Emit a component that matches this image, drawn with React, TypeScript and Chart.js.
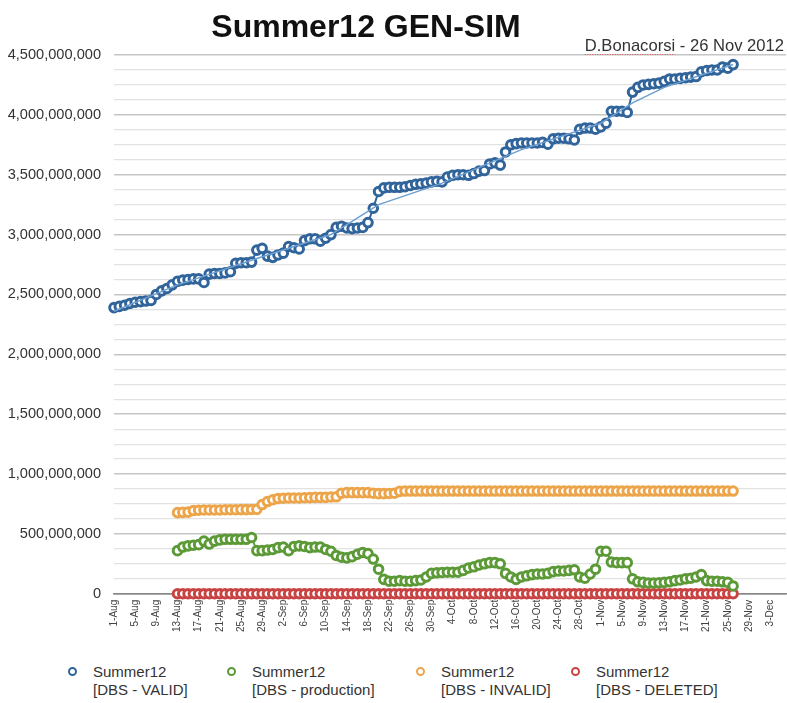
import React, { useEffect, useRef } from 'react';
import { Chart, registerables } from 'chart.js';

Chart.register(...registerables);

// ---------- text ----------
const TITLE = 'Summer12 GEN-SIM';
const AUTHOR = 'D.Bonacorsi - 26 Nov 2012';
const AUTHOR_NAME = 'D.Bonacorsi';
const SERIES_NAME = 'Summer12';
const SERIES_TAGS = ['[DBS - VALID]', '[DBS - production]', '[DBS - INVALID]', '[DBS - DELETED]'];

// ---------- categories (daily, 1-Aug-2012 .. 6-Dec-2012) ----------
const MONTHS = ['Jan', 'Feb', 'Mar', 'Apr', 'May', 'Jun', 'Jul', 'Aug', 'Sep', 'Oct', 'Nov', 'Dec'];
const START_YEAR = 2012;
const START_MONTH = 7; // August
const DAY_COUNT = 128;
const LABEL_EVERY = 4;
const categories: string[] = Array.from({ length: DAY_COUNT }, (_, i) => {
  const d = new Date(START_YEAR, START_MONTH, 1 + i);
  return `${d.getDate()}-${MONTHS[d.getMonth()]}`;
});

// ---------- values (millions of events) ----------
// VALID: 1-Aug .. 26-Nov
const validValues = [
  2390, 2400, 2410, 2425, 2435, 2440, 2445, 2450, 2500, 2530,
  2550, 2580, 2610, 2620, 2625, 2630, 2630, 2600, 2670, 2675,
  2675, 2680, 2690, 2760, 2765, 2765, 2770, 2870, 2885, 2820,
  2810, 2830, 2845, 2900, 2890, 2880, 2950, 2965, 2965, 2945,
  2970, 3000, 3060, 3070, 3055, 3050, 3055, 3060, 3100, 3220,
  3360, 3390, 3395, 3395, 3395, 3400, 3410, 3420, 3425, 3430,
  3440, 3445, 3440, 3480, 3495, 3500, 3500, 3495, 3510, 3530,
  3535, 3590, 3600, 3580, 3690, 3750, 3760, 3765, 3765, 3765,
  3765, 3770, 3755, 3800, 3805, 3805, 3800, 3790, 3880, 3890,
  3890, 3880, 3900, 3930, 4030, 4030, 4030, 4020, 4190, 4230,
  4250, 4255, 4260, 4265, 4280, 4300, 4300, 4305, 4310, 4315,
  4320, 4360, 4370, 4375, 4375, 4400, 4390, 4420,
];

// the other three series start on 13-Aug
const LATE_START = 12;

const productionValues = [
  360, 390, 400, 405, 410, 440, 415, 440, 450, 455,
  455, 455, 455, 455, 470, 360, 360, 365, 370, 385,
  390, 360, 395, 400, 395, 385, 390, 390, 370, 355,
  320, 305, 300, 310, 330, 345, 335, 290, 205, 120,
  105, 105, 110, 105, 105, 110, 115, 140, 170, 175,
  178, 180, 180, 180, 195, 215, 225, 240, 250, 260,
  260, 250, 170, 140, 120, 140, 150, 160, 165, 165,
  170, 185, 190, 190, 195, 200, 140, 130, 165, 205,
  355, 355, 265, 260, 260, 260, 125, 100, 95, 90,
  90, 92, 95, 100, 110, 115, 125, 130, 140, 160,
  110, 105, 105, 100, 95, 65,
];

const invalidValues = [
  678, 680, 682, 695, 698, 700, 700, 700, 700, 702,
  702, 702, 703, 703, 704, 705, 745, 770, 785, 795,
  798, 800, 800, 800, 802, 803, 805, 805, 805, 808,
  810, 840, 845, 845, 845, 845, 845, 840, 836, 836,
  838, 840, 855, 858, 858, 858, 858, 858, 858, 858,
  858, 858, 858, 858, 858, 858, 858, 858, 858, 858,
  858, 858, 858, 858, 858, 858, 858, 858, 858, 858,
  858, 858, 858, 858, 858, 858, 858, 858, 858, 858,
  858, 858, 858, 858, 858, 858, 858, 858, 858, 858,
  858, 858, 858, 858, 858, 858, 858, 858, 858, 858,
  858, 858, 858, 858, 858, 858,
];

const deletedValues = [
  0, 0, 0, 0, 0, 0, 0, 0, 0, 0,
  0, 0, 0, 0, 0, 0, 0, 0, 0, 0,
  0, 0, 0, 0, 0, 0, 0, 0, 0, 0,
  0, 0, 0, 0, 0, 0, 0, 0, 0, 0,
  0, 0, 0, 0, 0, 0, 0, 0, 0, 0,
  0, 0, 0, 0, 0, 0, 0, 0, 0, 0,
  0, 0, 0, 0, 0, 0, 0, 0, 0, 0,
  0, 0, 0, 0, 0, 0, 0, 0, 0, 0,
  0, 0, 0, 0, 0, 0, 0, 0, 0, 0,
  0, 0, 0, 0, 0, 0, 0, 0, 0, 0,
  0, 0, 0, 0, 0, 0,
];

// trend line through the VALID series (read at a few days)
const trendDays = [0, 12, 27, 41, 50, 62, 77, 92, 98, 104, 117];
const trendValues = [2360, 2580, 2800, 3000, 3250, 3430, 3710, 3930, 4100, 4230, 4420];

// y axis (millions)
const Y_MAX = 4500;
const Y_STEP = 125;
const Y_LABEL_STEP = 500;

// ---------- styles ----------
const FONT = '"Liberation Sans", Arial, Helvetica, sans-serif';
const COLORS = ['#30649a', '#5c9a38', '#eca54a', '#c94343'];
const TREND_COLOR = '#6d9fd2';
const LEGEND_TEXT_X = [93, 252, 441, 596];
const Y_AXIS_WIDTH = 106;

const padFront = (n: number, values: number[]) => [
  ...Array.from({ length: n }, () => null),
  ...values,
];

const withCommas = (n: number) => String(Math.round(n)).replace(/\B(?=(\d{3})+(?!\d))/g, ',');

const headerPlugin = {
  id: 'headerText',
  afterDraw(chart: any) {
    const { ctx } = chart;
    ctx.save();
    ctx.fillStyle = '#111';
    ctx.font = `bold 32px ${FONT}`;
    ctx.textAlign = 'center';
    ctx.textBaseline = 'alphabetic';
    ctx.fillText(TITLE, 366, 37);

    ctx.font = `16.6px ${FONT}`;
    ctx.textAlign = 'right';
    ctx.fillStyle = '#333';
    const right = 784;
    ctx.fillText(AUTHOR, right, 51);
    const full = ctx.measureText(AUTHOR).width;
    const nameW = ctx.measureText(AUTHOR_NAME).width;
    const x0 = right - full;
    ctx.strokeStyle = '#e05050';
    ctx.lineWidth = 1;
    ctx.setLineDash([1, 1.5]);
    ctx.beginPath();
    ctx.moveTo(x0, 54.5);
    ctx.lineTo(x0 + nameW, 54.5);
    ctx.stroke();
    ctx.restore();
  },
};

function lineSeries(label: string, data: (number | null)[], color: string) {
  return {
    label,
    data,
    borderColor: color,
    backgroundColor: color,
    borderWidth: 2,
    pointRadius: 4.3,
    pointBorderWidth: 3,
    pointBackgroundColor: '#ffffff',
    pointBorderColor: color,
    pointHoverRadius: 4.3,
    fill: false,
    tension: 0,
    clip: false,
  };
}

export default function App() {
  const canvasRef = useRef<HTMLCanvasElement | null>(null);

  useEffect(() => {
    if (!canvasRef.current) return;
    const trendData: (number | null)[] = categories.map(() => null);
    trendDays.forEach((d, k) => {
      trendData[d] = trendValues[k];
    });

    const chart = new Chart(canvasRef.current, {
      type: 'line',
      data: {
        labels: categories,
        datasets: [
          {
            label: 'trend',
            data: trendData,
            borderColor: TREND_COLOR,
            borderWidth: 1.5,
            pointRadius: 0,
            spanGaps: true,
            fill: false,
            tension: 0,
          },
          lineSeries(`${SERIES_NAME} ${SERIES_TAGS[0]}`, validValues, COLORS[0]),
          lineSeries(`${SERIES_NAME} ${SERIES_TAGS[1]}`, padFront(LATE_START, productionValues), COLORS[1]),
          lineSeries(`${SERIES_NAME} ${SERIES_TAGS[2]}`, padFront(LATE_START, invalidValues), COLORS[2]),
          lineSeries(`${SERIES_NAME} ${SERIES_TAGS[3]}`, padFront(LATE_START, deletedValues), COLORS[3]),
        ] as any,
      },
      options: {
        animation: false,
        responsive: true,
        maintainAspectRatio: false,
        layout: { autoPadding: false, padding: { top: 55, left: 8, right: 1, bottom: 14 } },
        plugins: {
          legend: { display: false },
          tooltip: { enabled: false },
          title: { display: false },
        },
        scales: {
          x: {
            type: 'category',
            offset: false,
            afterFit: (scale: any) => {
              scale.paddingLeft = 0;
              scale.paddingRight = 0;
            },
            grid: { display: false, drawTicks: false },
            border: { display: true, color: '#8a8a8a', width: 1.5 },
            ticks: {
              autoSkip: false,
              maxRotation: 90,
              minRotation: 90,
              padding: 6,
              color: '#444',
              font: { size: 10, family: FONT },
              callback: function (this: any, val: any, idx: number) {
                return idx % LABEL_EVERY === 0 ? categories[idx] : '';
              },
            },
          },
          y: {
            min: 0,
            max: Y_MAX,
            afterFit: (scale: any) => {
              scale.width = Y_AXIS_WIDTH;
            },
            border: { display: false },
            grid: {
              drawTicks: false,
              color: (ctx: any) => {
                const v = ctx.tick?.value ?? 0;
                if (v === 0) return '#8a8a8a';
                return v % Y_LABEL_STEP === 0 ? '#c6c6c6' : '#e2e2e2';
              },
              lineWidth: (ctx: any) => {
                const v = ctx.tick?.value ?? 0;
                return v % Y_LABEL_STEP === 0 ? 1.5 : 1.2;
              },
            },
            ticks: {
              stepSize: Y_STEP,
              autoSkip: false,
              padding: 13,
              color: '#333',
              font: { size: 14.6, family: FONT },
              callback: (v: any) => (Number(v) % Y_LABEL_STEP === 0 ? withCommas(Number(v) * 1e6) : ''),
            },
          },
        },
      } as any,
      plugins: [headerPlugin],
    });
    return () => chart.destroy();
  }, []);

  return (
    <div style={{ position: 'absolute', left: 0, top: 0, width: 787, height: 703, background: '#fff', fontFamily: FONT, overflow: 'hidden' }}>
      <div style={{ position: 'absolute', left: 0, top: 0, width: 787, height: 652 }}>
        <canvas ref={canvasRef} />
      </div>
      {SERIES_TAGS.map((tag, i) => (
        <div key={tag} style={{ position: 'absolute', left: LEGEND_TEXT_X[i] - 25, top: 663 }}>
          <span
            style={{
              position: 'absolute',
              left: 0,
              top: 4,
              width: 5,
              height: 5,
              border: `2.5px solid ${COLORS[i]}`,
              borderRadius: '50%',
              background: '#fff',
            }}
          />
          <div style={{ position: 'absolute', left: 25, top: 0, whiteSpace: 'nowrap', fontSize: 15, lineHeight: '18px', color: '#333' }}>
            <div>{SERIES_NAME}</div>
            <div>{tag}</div>
          </div>
        </div>
      ))}
    </div>
  );
}
